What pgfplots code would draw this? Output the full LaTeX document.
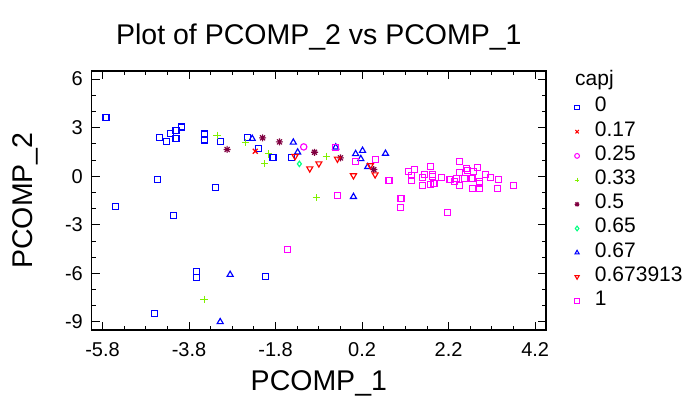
\documentclass[border=0pt]{standalone}
\usepackage{fontspec}
\setmainfont{Liberation Sans}
\usepackage{pgfplots}
\pgfplotsset{compat=1.18}
\definecolor{c0}{RGB}{0,0,255}
\definecolor{c17}{RGB}{255,0,0}
\definecolor{c25}{RGB}{255,0,255}
\definecolor{c33}{RGB}{128,240,0}
\definecolor{c50}{RGB}{128,0,64}
\definecolor{c65}{RGB}{0,255,128}
\definecolor{c67}{RGB}{0,0,255}
\definecolor{c67b}{RGB}{255,0,0}
\definecolor{c1}{RGB}{255,0,255}
\pgfdeclareplotmark{burst}{%
 \pgfpathmoveto{\pgfqpoint{-\pgfplotmarksize}{0pt}}\pgfpathlineto{\pgfqpoint{\pgfplotmarksize}{0pt}}%
 \pgfpathmoveto{\pgfqpoint{0pt}{-\pgfplotmarksize}}\pgfpathlineto{\pgfqpoint{0pt}{\pgfplotmarksize}}%
 \pgfpathmoveto{\pgfqpoint{-.707\pgfplotmarksize}{-.707\pgfplotmarksize}}\pgfpathlineto{\pgfqpoint{.707\pgfplotmarksize}{.707\pgfplotmarksize}}%
 \pgfpathmoveto{\pgfqpoint{-.707\pgfplotmarksize}{.707\pgfplotmarksize}}\pgfpathlineto{\pgfqpoint{.707\pgfplotmarksize}{-.707\pgfplotmarksize}}%
 \pgfusepathqstroke}
\pgfplotsset{
  grp/.style={only marks, scatter, forget plot, color=#1, line width=1.15pt,
    scatter/use mapped color={draw=#1, fill=none}},
  leg/.style={only marks, color=#1, line width=1.05pt, mark size=2.4pt},
}
\begin{document}
\begin{tikzpicture}
\useasboundingbox (0,0) rectangle (689pt,396pt);
\begin{axis}[
  at={(91.7pt,66pt)}, anchor=south west,
  width=454.3pt, height=259pt, scale only axis,
  xmin=-6.05, xmax=4.45, ymin=-9.5, ymax=6.5,
  xtick={-5.8,-3.8,-1.8,0.2,2.2,4.2},
  xticklabels={-5.8,-3.8,-1.8,0.2,2.2,4.2},
  ytick={-9,-6,-3,0,3,6},
  yticklabels={-9,-6,-3,0,3,6},
  minor x tick num=3, minor y tick num=2,
  tick align=inside, tick pos=both,
  major tick length=8pt, minor tick length=4pt,
  every tick/.style={black, line width=0.9pt},
  axis line style={black, line width=1.1pt},
  every tick label/.append style={font=\fontsize{20}{20}\selectfont, inner sep=0pt},
  xticklabel style={anchor=base, yshift=-27pt},
  yticklabel style={anchor=east, xshift=-8.7pt},
  title={Plot of PCOMP\_2 vs PCOMP\_1},
  title style={at={(axis description cs:0.5,1.078)}, anchor=base, font=\fontsize{28.5}{28.5}\selectfont, inner sep=0pt},
  xlabel={PCOMP\_1},
  xlabel style={at={(axis description cs:0.5,-0.2355)}, anchor=base, font=\fontsize{28.5}{28.5}\selectfont, inner sep=0pt},
  ylabel={PCOMP\_2},
  ylabel style={at={(axis description cs:-0.1314,0.5)}, anchor=base, font=\fontsize{28.5}{28.5}\selectfont, inner sep=0pt},
  clip=false,
  legend cell align=left,
  legend image code/.code={\draw[#1, yshift=1.5pt] plot coordinates {(0pt,0pt)};},
  legend style={at={(axis description cs:1.0627,0.9008)}, anchor=north west, draw=none, fill=none,
    inner sep=0pt, column sep=15.5pt, row sep=0pt,
    font=\fontsize{21}{21}\selectfont,
    nodes={inner sep=0pt, text height=15pt, text depth=9.2pt}},
]
\addplot[grp=c0, mark=square, mark size=3pt] coordinates {
(-5.72,3.62) (-4.48,2.40) (-4.32,2.16) (-4.22,2.65) (-4.10,2.83) (-4.10,2.34) (-3.98,3.04)
(-3.44,2.61) (-3.45,2.24) (-3.08,2.14) (-4.52,-0.20) (-3.18,-0.71) (-2.45,2.37) (-2.19,1.73)
(-1.86,1.13) (-1.43,1.13) (-5.50,-1.85) (-4.15,-2.42) (-3.63,-5.87) (-3.63,-6.26) (-2.03,-6.18)
(-4.59,-8.50)};
\addplot[grp=c17, mark=x, mark size=3.4pt] coordinates {(-2.27,1.54)};
\addplot[grp=c25, mark=o, mark size=3.2pt] coordinates {(-1.15,1.81)};
\addplot[grp=c33, mark=+, mark size=3.7pt] coordinates {
(-3.15,2.53) (-2.50,2.09) (-1.97,1.38) (-2.05,0.77) (-0.63,1.23) (-0.86,-1.33) (-3.45,-7.60)};
\addplot[grp=c50, mark=burst, mark size=3.5pt] coordinates {
(-2.92,1.65) (-2.10,2.37) (-1.71,2.12) (-0.90,1.48) (-0.30,1.13) (0.47,0.41)};
\addplot[grp=c65, mark=diamond, mark size=2.7pt] coordinates {(-1.25,0.76)};
\addplot[grp=c67, mark=triangle, mark size=3.5pt] coordinates {
(-2.34,2.32) (-1.39,2.09) (-1.29,1.48) (-0.41,1.79) (0.05,1.38) (0.21,1.58) (0.17,1.07)
(0.74,1.40) (0.33,0.58) (0.00,-1.27) (-2.85,-6.08) (-3.08,-9.00)};
\addplot[grp=c67b, mark=triangle, mark options={rotate=180}, mark size=3.5pt] coordinates {
(-1.35,1.23) (-1.01,0.47) (-0.80,0.78) (-0.37,1.07) (0.00,0.04) (0.39,0.66) (0.50,0.10)};
\addplot[grp=c1, mark=square, mark size=3pt] coordinates {
(-0.41,1.75) (0.04,0.92) (0.50,1.03) (0.82,-0.25) (-0.37,-1.17) (1.10,-1.36) (1.08,-1.95)
(1.28,0.27) (1.35,0.06) (1.34,-0.25) (1.42,0.41) (1.60,-0.06) (1.60,-0.55) (1.65,0.10)
(1.78,0.60) (1.83,0.12) (1.83,0.00) (1.78,-0.49) (1.86,-0.45) (2.04,-0.08) (2.18,-2.22)
(2.23,-0.20) (2.33,-0.31) (2.39,-0.14) (2.45,0.91) (2.46,0.21) (2.46,-0.55) (2.57,-0.12)
(2.62,0.46) (2.64,0.37) (2.74,-0.14) (2.77,0.31) (2.76,-0.78) (2.87,0.55) (2.91,-0.31)
(2.91,-0.45) (2.92,-0.78) (3.06,0.12) (3.16,-0.08) (3.33,-0.78) (3.35,-0.20) (3.69,-0.55)
(-1.53,-4.53)};
\addlegendimage{leg=c0, mark=square}\addlegendentry{0}
\addlegendimage{leg=c17, mark=x}\addlegendentry{0.17}
\addlegendimage{leg=c25, mark=o}\addlegendentry{0.25}
\addlegendimage{leg=c33, mark=+}\addlegendentry{0.33}
\addlegendimage{leg=c50, mark=burst}\addlegendentry{0.5}
\addlegendimage{leg=c65, mark=diamond}\addlegendentry{0.65}
\addlegendimage{leg=c67, mark=triangle}\addlegendentry{0.67}
\addlegendimage{leg=c67b, mark=triangle, mark options={rotate=180}}\addlegendentry{0.673913}
\addlegendimage{leg=c1, mark=square}\addlegendentry{1}
\node[anchor=base west, font=\fontsize{21}{21}\selectfont, inner sep=0pt] at (axis description cs:1.0638,0.9421) {capj};
\end{axis}
\end{tikzpicture}
\end{document}
